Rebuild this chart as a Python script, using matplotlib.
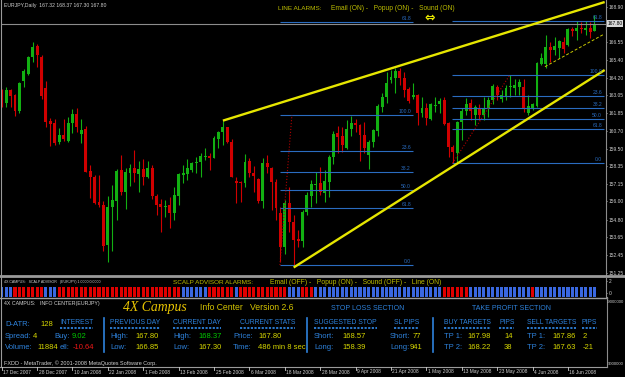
import numpy as np
import matplotlib
matplotlib.use('Agg')
import matplotlib.pyplot as plt
from matplotlib.lines import Line2D

plt.rcParams['font.family'] = ['Liberation Sans', 'DejaVu Sans']

W, H = 625, 377

# ---- EURJPY daily candles ----
opens = [163.28, 162.55, 163.39, 163.04, 162.00, 163.99, 164.45, 165.56, 166.31, 165.60,
         163.51, 161.34, 161.18, 159.96, 160.41, 160.01, 161.22, 161.80, 160.47, 160.78,
         158.02, 157.64, 155.98, 155.76, 153.11, 155.65, 156.05, 158.08, 156.64, 157.90,
         158.22, 157.82, 158.13, 157.64, 158.20, 156.38, 155.81, 155.65, 155.76, 155.21,
         156.36, 157.75, 157.82, 158.08, 158.53, 158.63, 158.97, 159.03, 158.90, 160.12,
         160.59, 160.92, 159.96, 157.37, 157.31, 157.24, 158.68, 157.87, 157.47, 156.05,
         158.53, 158.20, 157.27, 155.21, 152.99, 155.87, 154.65, 153.49, 153.39, 155.32,
         156.38, 157.11, 157.20, 156.54, 157.31, 158.93, 160.52, 160.34, 159.52, 160.78,
         161.18, 161.07, 160.41, 159.08, 159.96, 160.69, 162.28, 162.95, 164.06, 164.21,
         164.67, 164.21, 163.44, 162.91, 163.06, 161.89, 162.22, 161.47, 162.33, 162.44,
         162.73, 161.18, 159.63, 159.23, 161.29, 162.00, 162.51, 161.73, 162.22, 161.73,
         162.18, 162.73, 163.57, 162.80, 162.95, 163.57, 163.51, 163.61, 163.61, 161.85,
         162.18, 162.33, 165.12, 165.12, 166.23, 166.05, 166.20, 166.60, 166.38, 167.44,
         167.33, 167.53, 167.37, 167.49, 167.32]
highs = [163.46, 163.57, 163.46, 163.13, 163.94, 164.79, 165.67, 166.56, 166.45, 165.72,
         163.99, 161.55, 161.45, 160.89, 161.45, 161.58, 162.13, 162.22, 161.47, 161.00,
         158.42, 157.75, 157.75, 156.03, 156.38, 157.09, 158.13, 159.08, 158.20, 158.46,
         159.41, 158.68, 158.81, 158.68, 158.42, 156.49, 156.14, 156.09, 156.31, 156.98,
         157.87, 158.42, 158.79, 158.60, 158.97, 159.19, 159.52, 159.23, 160.34, 160.69,
         161.36, 160.96, 160.12, 157.64, 157.35, 159.15, 158.86, 158.35, 157.53, 158.86,
         159.08, 158.30, 157.49, 155.65, 156.09, 156.94, 155.10, 154.10, 155.43, 156.64,
         157.42, 157.93, 158.26, 158.08, 159.08, 160.67, 161.00, 160.96, 161.40, 161.67,
         161.45, 161.12, 161.25, 160.07, 160.78, 162.46, 163.17, 164.57, 164.72, 164.83,
         164.83, 164.61, 163.57, 163.84, 163.13, 162.95, 162.51, 162.55, 162.95, 162.84,
         162.95, 161.29, 159.74, 161.36, 162.18, 162.84, 162.80, 162.40, 162.46, 162.95,
         162.95, 163.79, 163.72, 163.39, 163.72, 164.39, 164.10, 164.10, 164.12, 163.06,
         162.53, 165.27, 165.83, 167.04, 166.60, 166.93, 166.71, 166.93, 167.49, 167.59,
         167.99, 167.93, 167.99, 167.93, 168.37]
lows = [162.26, 162.28, 162.28, 161.69, 161.89, 163.61, 164.39, 165.27, 164.90, 162.80,
        160.96, 159.70, 159.74, 159.81, 160.01, 159.92, 160.52, 160.59, 159.86, 157.93,
        156.21, 155.83, 155.65, 152.73, 152.00, 152.73, 154.77, 156.42, 155.48, 157.02,
        157.31, 156.60, 157.09, 157.53, 156.14, 155.10, 153.99, 154.99, 154.26, 154.77,
        155.76, 157.20, 157.42, 157.97, 157.87, 157.64, 158.75, 158.08, 158.86, 159.52,
        159.74, 159.86, 157.60, 155.87, 155.98, 156.94, 157.64, 156.64, 155.87, 155.54,
        157.87, 155.43, 154.77, 151.98, 152.51, 153.99, 151.78, 152.99, 152.99, 155.10,
        155.65, 155.87, 156.42, 155.98, 156.31, 158.46, 159.23, 159.30, 159.46, 160.34,
        160.63, 158.70, 159.19, 158.13, 159.59, 160.34, 161.95, 162.55, 163.84, 163.17,
        163.72, 162.95, 162.51, 162.78, 161.07, 161.62, 161.07, 161.40, 161.95, 161.85,
        161.07, 158.97, 158.53, 158.53, 160.07, 161.73, 161.40, 161.07, 161.40, 161.40,
        161.62, 162.46, 162.73, 162.62, 162.73, 162.95, 163.06, 163.06, 161.95, 161.73,
        162.07, 162.24, 165.05, 164.83, 165.27, 165.72, 165.50, 165.83, 166.31, 166.98,
        166.71, 167.16, 167.04, 166.82, 167.30]
closes = [162.51, 163.39, 163.01, 162.00, 163.88, 164.67, 165.60, 166.27, 165.70, 163.01,
          161.29, 161.16, 159.86, 160.41, 160.14, 161.22, 161.80, 160.92, 160.74, 157.97,
          157.64, 155.87, 155.76, 153.06, 155.65, 156.09, 158.04, 156.64, 157.93, 158.24,
          157.87, 158.13, 157.64, 158.24, 156.36, 155.76, 155.65, 155.72, 155.21, 156.42,
          157.82, 157.90, 158.20, 158.53, 158.63, 159.01, 159.01, 158.90, 160.23, 160.59,
          160.96, 159.96, 157.64, 157.24, 157.20, 158.63, 157.87, 157.71, 156.05, 158.53,
          158.26, 157.27, 155.54, 152.99, 155.87, 154.65, 153.44, 153.37, 155.32, 156.42,
          157.13, 157.15, 156.60, 157.37, 158.93, 160.47, 160.29, 159.74, 160.78, 161.22,
          161.07, 160.41, 159.52, 159.96, 160.74, 162.33, 162.95, 163.88, 164.28, 164.67,
          164.21, 163.39, 162.66, 163.06, 161.85, 162.22, 161.51, 162.44, 162.40, 162.66,
          161.14, 159.63, 159.30, 161.29, 162.00, 162.46, 162.00, 162.28, 161.73, 162.18,
          162.73, 163.66, 163.06, 163.06, 163.51, 163.61, 163.72, 163.94, 162.18, 162.33,
          162.44, 165.16, 165.54, 166.27, 166.05, 166.31, 166.64, 166.11, 167.44, 167.31,
          167.49, 167.42, 167.53, 167.26, 167.80]

dates = ['17 Dec 2007', '28 Dec 2007', '10 Jan 2008', '22 Jan 2008', '1 Feb 2008',
         '13 Feb 2008', '25 Feb 2008', '6 Mar 2008', '18 Mar 2008', '28 Mar 2008',
         '9 Apr 2008', '21 Apr 2008', '1 May 2008', '13 May 2008', '23 May 2008',
         '4 Jun 2008', '16 Jun 2008']
date_bars = [0, 8, 16, 24, 32, 40, 48, 56, 64, 72, 80, 88, 96, 104, 112, 120, 128]

price_ticks = [168.90, 166.55, 165.40, 164.20, 163.05, 161.85, 160.70, 159.50,
               158.35, 157.15, 156.00, 154.80, 153.65, 152.45, 151.25]
last_price = 167.80

# trend lines: (bar index, price) end points
upper_x, upper_y = [50.0, 136.3], [161.36, 169.23]
lower_x, lower_y = [66.0, 136.3], [151.62, 164.72]
chan_x, chan_y = [122.8, 136.1], [164.94, 167.09]

# fibonacci objects
fib_levels = ['61.8', '100.0', '23.6', '38.2', '50.0', '61.8', '0.0']
fib1_from, fib1_to = 62.9, 92.9
fib1_prices = [167.89, 161.73, 159.36, 157.93, 156.74, 155.54, 151.78]
fib1_base_x, fib1_base_y = [62.9, 65.6], [151.78, 161.73]
fib2_from, fib2_to = 101.9, 136.1
fib2_prices = [167.99, 164.41, 163.01, 162.18, 161.47, 160.80, 158.53]
fib2_base_x, fib2_base_y = [101.9, 114.9], [158.53, 164.41]

# scalp advisor signal, runs of (colour, bars)
scalp_runs = [('B', 3), ('R', 7), ('B', 3), ('R', 28), ('B', 6), ('R', 6), ('B', 1),
              ('R', 11), ('B', 3), ('R', 3), ('B', 29), ('R', 6), ('B', 14), ('R', 1), ('B', 14)]
scalp_value = 1

GREEN, RED = '#12b012', '#d00000'
GRAY, LBL = '#8c8c8c', '#d0d0d0'
FIB = '#2a6cc0'
YEL, OLIVE = '#e6e600', '#bcbc00'
BLUE, VAL = '#2e82dc', '#d6d600'

fig = plt.figure(figsize=(W / 100, H / 100), dpi=100, facecolor='black')
rend = fig.canvas.get_renderer()


def box(x0, y0, x1, y1):
    return [x0 / W, 1 - y1 / H, (x1 - x0) / W, (y1 - y0) / H]


def hline(x0, x1, y, color, lw, **kw):
    fig.add_artist(Line2D([x0 / W, x1 / W], [1 - y / H, 1 - y / H], color=color, lw=lw, **kw))


def vline(x, y0, y1, color, lw, **kw):
    fig.add_artist(Line2D([x / W, x / W], [1 - y0 / H, 1 - y1 / H], color=color, lw=lw, **kw))


def put(x, y, s, color, size=5.5, w=None, **kw):
    t = fig.text(x / W, 1 - y / H, s, color=color, fontsize=size, ha='left', va='center', **kw)
    if w:
        t.set_fontsize(size * w / t.get_window_extent(rend).width)
    return t


XL = (0.07, 136.6)
AX = dict(length=1, width=0.6, color=LBL, labelcolor=LBL, labelsize=3.5, pad=0.8)

# ---- main price chart ----
ax = fig.add_axes(box(2, 0, 606, 275))
ax.set_facecolor('black')
o, h, l, c = map(np.array, (opens, highs, lows, closes))
x = np.arange(len(o))
col = np.where(c >= o, GREEN, RED)
ax.vlines(x, l, h, colors=col, lw=0.8)
ax.bar(x, np.maximum(np.abs(c - o), 0.07), bottom=np.minimum(o, c), width=0.66,
       color=col, linewidth=0)

ax.axhline(last_price, color=GRAY, lw=0.8)

for lo, hi, prices in [(fib1_from, fib1_to, fib1_prices), (fib2_from, fib2_to, fib2_prices)]:
    ax.hlines(prices, lo, hi, colors=FIB, lw=0.8)
    for p, lab in zip(prices, fib_levels):
        ax.text(hi - 0.4, p + 0.06, lab, ha='right', va='bottom', fontsize=3.6, color=FIB)
ax.plot(fib1_base_x, fib1_base_y, color='#b00000', lw=0.8, ls=':')
ax.plot(fib2_base_x, fib2_base_y, color='#b00000', lw=0.8, ls=':')

ax.plot(upper_x, upper_y, color=YEL, lw=1.7, solid_capstyle='butt')
ax.plot(lower_x, lower_y, color=YEL, lw=1.7, solid_capstyle='butt')
ax.plot(chan_x, chan_y, color='#c8c800', lw=0.7, ls=(0, (3, 2)))

ax.set_xlim(*XL)
ax.set_ylim(151.12, 169.365)
ax.set_xticks([])
ax.yaxis.tick_right()
ax.set_yticks(price_ticks)
ax.set_yticklabels([f'{v:.2f}' for v in price_ticks])
ax.tick_params(axis='y', **AX)
for s in ['top', 'bottom', 'left']:
    ax.spines[s].set_visible(False)
ax.spines['right'].set_color(GRAY)
ax.text(1.0025, last_price, f'{last_price:.2f}', transform=ax.get_yaxis_transform(),
        ha='left', va='center', fontsize=3.5, color='black', clip_on=False,
        bbox=dict(boxstyle='square,pad=0.15', fc='#d8d8d8', ec='none'))

# ---- scalp advisor panel ----
ax2 = fig.add_axes(box(2, 278, 606, 297))
ax2.set_facecolor('black')
sig = ''.join(k * n for k, n in scalp_runs)
ylo = -0.75
ax2.bar(np.arange(len(sig)), scalp_value - ylo, bottom=ylo, width=0.7,
        color=['#3a68e0' if k == 'B' else '#e00000' for k in sig], linewidth=0)
ax2.set_xlim(*XL)
ax2.set_ylim(ylo, 2.5)
ax2.set_xticks([])
ax2.yaxis.tick_right()
ax2.set_yticks([0, 2])
ax2.set_yticklabels(['0', '2'])
ax2.tick_params(axis='y', **AX)
for s in ['top', 'bottom', 'left']:
    ax2.spines[s].set_visible(False)
ax2.spines['right'].set_color(GRAY)

# ---- frame lines ----
hline(0, 625, 276, '#9a9a9a', 2.0)
hline(0, 607, 297.6, '#9a9a9a', 1.0)
hline(0, 607, 366.7, '#9a9a9a', 0.8)
vline(1, 0, 367, '#9a9a9a', 0.8)
vline(606.5, 297, 367, GRAY, 0.8)

# ---- header texts ----
put(4, 6, 'EURJPY,Daily  167.32 168.37 167.30 167.80', LBL, w=103)
put(278, 8, 'LINE ALARMS:', OLIVE, w=44)
put(331, 8, 'Email (ON) -   Popup (ON) -   Sound (ON)', OLIVE, w=123)
fig.text(430 / W, 1 - 18 / H, '⇔', color=YEL, fontsize=9, ha='center', va='center',
         family='DejaVu Sans', fontweight='bold')

put(4, 282, '4X CAMPUS:   SCALP ADVISOR   (EURJPY) 1.0000 0.0000', LBL, w=97)
put(173, 282, 'SCALP ADVISOR ALARMS:', OLIVE, w=80)
put(270, 282, 'Email (OFF) -   Popup (ON) -   Sound (OFF) -   Line (ON)', OLIVE, w=172)

# ---- info center panel ----
put(4, 303, '4X CAMPUS:   INFO CENTER(EURJPY)', LBL, w=97)
put(123, 307, '4X Campus', '#e8c400', w=64, family='Liberation Serif', style='italic', size=10)
put(200, 307, 'Info Center   Version 2.6', '#d4c400', w=93)
put(331, 308, 'STOP LOSS SECTION', BLUE, size=5)
put(472, 308, 'TAKE PROFIT SECTION', BLUE, size=5)

headers = [(60, 'INTEREST'), (110, 'PREVIOUS DAY'), (173, 'CURRENT DAY'), (240, 'CURRENT STATS'),
           (314, 'SUGGESTED STOP'), (394, 'SL PIPS'), (444, 'BUY TARGETS'), (499, 'PIPS'),
           (527, 'SELL TARGETS'), (582, 'PIPS')]
for hx, s in headers:
    t = put(hx, 322, s, BLUE, size=4.9)
    tw = t.get_window_extent(rend).width
    hline(hx, hx + tw, 327.5, BLUE, 1.3, ls=(0, (1.2, 0.8)))

for vx in [104, 307, 433]:
    vline(vx, 318, 352, BLUE, 1.2)

put(5, 324, 'D-ATR:', BLUE)
put(40, 324, '128', VAL)

row2 = [(5, 'Spread:', BLUE), (33, '4', VAL), (54, 'Buy:', BLUE), (72, '9.02', '#00c800'),
        (110, 'High:', BLUE), (135, '167.80', VAL), (173, 'High:', BLUE), (198, '168.37', '#00c800'),
        (233, 'Price:', BLUE), (258, '167.80', VAL), (314, 'Short:', BLUE), (342, '168.57', VAL),
        (390, 'Short:', BLUE), (413, '77', VAL), (444, 'TP 1:', BLUE), (467, '167.98', VAL),
        (504, '14', VAL), (527, 'TP 1:', BLUE), (552, '167.86', VAL), (583, '2', VAL)]
row3 = [(5, 'Volume:', BLUE), (37, '11884', VAL), (59.5, 'ell:', BLUE), (73, '-10.64', '#f01818'),
        (110, 'Low:', BLUE), (135, '166.85', VAL), (173, 'Low:', BLUE), (198, '167.30', VAL),
        (233, 'Time:', BLUE), (258, '486 min 8 sec', VAL), (314, 'Long:', BLUE), (342, '158.39', VAL),
        (390, 'Long:', BLUE), (410, '941', VAL), (444, 'TP 2:', BLUE), (467, '168.22', VAL),
        (504, '38', VAL), (527, 'TP 2:', BLUE), (552, '167.63', VAL), (583, '-21', VAL)]
for rx, s, cc in row2:
    put(rx, 336, s, cc)
for rx, s, cc in row3:
    put(rx, 347.5, s, cc)

put(4, 363, 'FXDD - MetaTrader, © 2001-2008 MetaQuotes Software Corp.', LBL, w=153)
put(607, 302, '-9000000', LBL, size=3.0)
put(608, 364, '9000000', LBL, size=3.0)

# ---- date axis ----
for i, d in zip(date_bars, dates):
    px = 2 + (i - XL[0]) * 604 / (XL[1] - XL[0])
    vline(px, 367, 370, LBL, 0.6)
    put(px + 1.5, 372, d, LBL, size=3.55)

fig.savefig('out.png', dpi=100, facecolor='black')
